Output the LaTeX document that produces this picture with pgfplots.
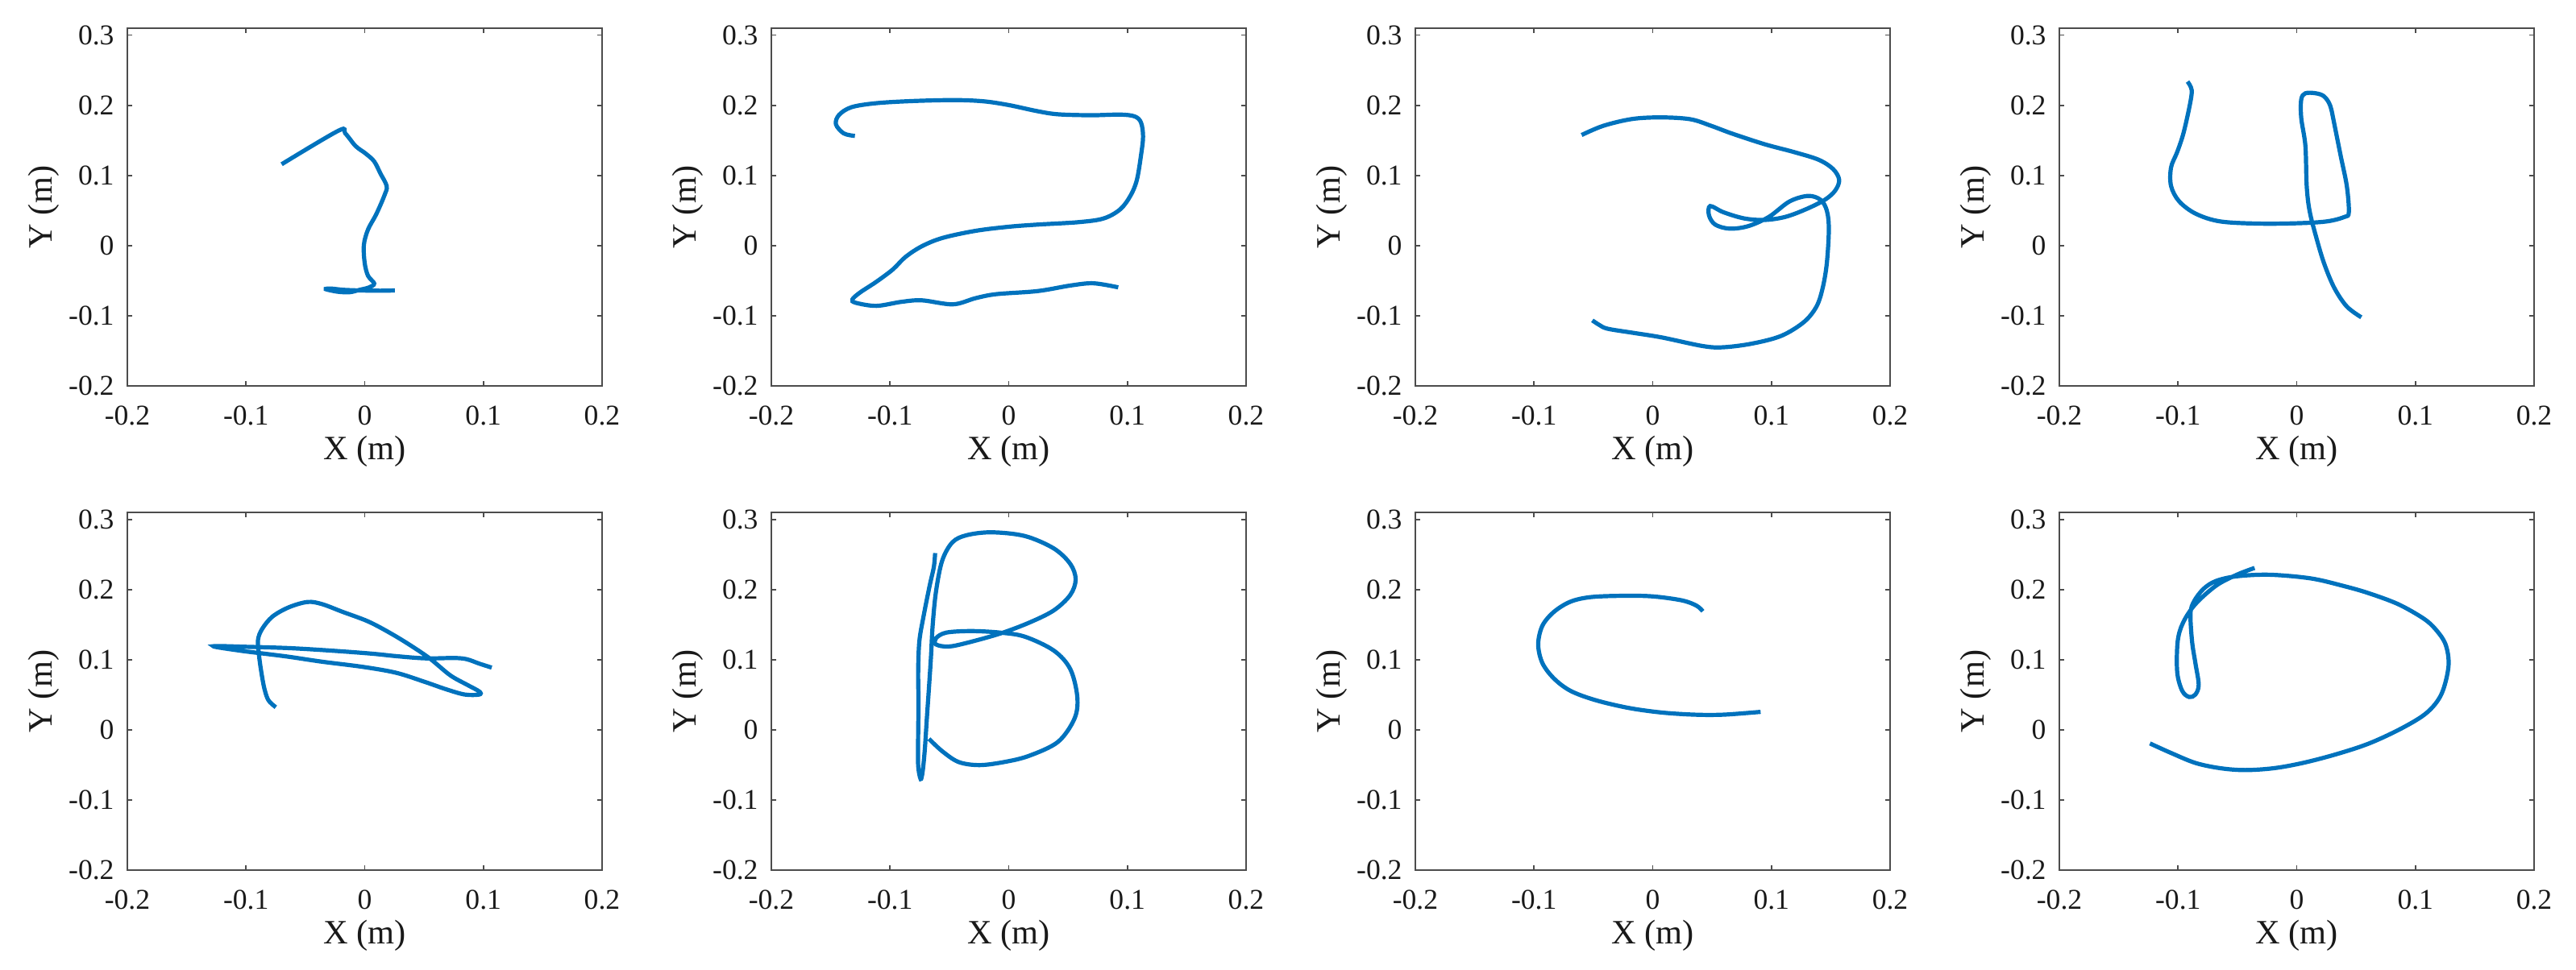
\documentclass[border=0pt]{standalone}
\usepackage{fontspec}
\setmainfont{Liberation Serif}
\usepackage{pgfplots}
\pgfplotsset{compat=1.18}

\definecolor{mblue}{rgb}{0,0.447,0.741}
\definecolor{axisgray}{rgb}{0.3,0.3,0.3}

\pgfplotsset{
  panel/.style={
    scale only axis, anchor=south west,
    width=147.25bp, height=111bp,
    xmin=-0.2, xmax=0.2, ymin=-0.2, ymax=0.31,
    xtick={-0.2,-0.1,0,0.1,0.2}, xticklabels={-0.2,-0.1,0,0.1,0.2},
    ytick={-0.2,-0.1,0,0.1,0.2,0.3}, yticklabels={-0.2,-0.1,0,0.1,0.2,0.3},
    tick align=inside, major tick length=1.5bp,
    axis line style={draw=axisgray, line width=0.4bp},
    every tick/.style={draw=axisgray, line width=0.4bp},
    ticklabel style={font=\fontsize{8.9bp}{10bp}\selectfont, text=black!90},
    xticklabel shift=2.8bp, yticklabel shift=0.6bp,
    xlabel={X (m)}, ylabel={Y (m)},
    label style={font=\fontsize{10.6bp}{12bp}\selectfont, text=black!90},
    xlabel style={at={(axis description cs:0.5,-0.1824)}, anchor=center},
    ylabel style={at={(axis description cs:-0.1766,0.5)}, anchor=center},
  },
  trace/.style={mblue, line width=1.3bp, smooth, tension=0.55},
}

\begin{document}
\begin{tikzpicture}
\path[use as bounding box] (0,0) rectangle (799bp,301bp);

% row 1
\begin{axis}[panel, at={(39.5bp,181.25bp)}]
\addplot[trace] coordinates {
(-0.070,0.116) (-0.022,0.164) (-0.0164,0.160) (-0.0077,0.142) (0.001,0.131)
(0.008,0.120) (0.0132,0.103) (0.0185,0.085) (0.0167,0.072) (0.0098,0.045)
(0.0028,0.023) (-0.0007,0.001) (0.000,-0.025) (0.0028,-0.043) (0.008,-0.054)
(0.0038,-0.0595) (-0.0042,-0.063) (-0.0129,-0.0665) (-0.0233,-0.0656)
(-0.0328,-0.0621) (-0.0286,-0.0612) (-0.0181,-0.063) (-0.0042,-0.0639)
(0.0132,-0.0643) (0.0254,-0.0639)
};
\end{axis}

\begin{axis}[panel, at={(239.25bp,181.25bp)}]
\addplot[trace] coordinates {
(-0.1296,0.1564) (-0.139,0.160) (-0.1456,0.173) (-0.143,0.1863) (-0.1324,0.1974)
(-0.1115,0.2031) (-0.080,0.2062) (-0.0453,0.2075) (-0.0209,0.2057) (0,0.2004)
(0.0244,0.1916) (0.0418,0.1872) (0.0697,0.1859) (0.0941,0.1868) (0.1063,0.1841)
(0.1115,0.1753) (0.1132,0.1555) (0.1115,0.1291) (0.108,0.0938) (0.1028,0.0718)
(0.0941,0.052) (0.0801,0.0388) (0.0592,0.0335) (0.0244,0.030) (0,0.0269)
(-0.0279,0.0211) (-0.0557,0.011) (-0.0732,-0.0009) (-0.0871,-0.0163)
(-0.0976,-0.0339) (-0.1115,-0.0515) (-0.1254,-0.067) (-0.1317,-0.0767)
(-0.1289,-0.0815) (-0.1115,-0.0859) (-0.0906,-0.0802) (-0.0732,-0.078)
(-0.047,-0.0837) (-0.0279,-0.0749) (-0.0105,-0.0692) (0.0244,-0.0648)
(0.0523,-0.0568) (0.0714,-0.0537) (0.0923,-0.0595)
};
\end{axis}

\begin{axis}[panel, at={(439bp,181.25bp)}]
\addplot[trace] coordinates {
(-0.0599,0.1577) (-0.0415,0.1709) (-0.0171,0.1806) (0.0073,0.1828) (0.0317,0.1802)
(0.0491,0.1709) (0.0666,0.1599) (0.0944,0.1445) (0.1188,0.1335) (0.1397,0.1225)
(0.1519,0.1093) (0.1571,0.0938) (0.1537,0.0784) (0.1449,0.0652) (0.1293,0.052)
(0.1118,0.041) (0.0944,0.0366) (0.077,0.0388) (0.0596,0.0476) (0.0484,0.0564)
(0.0474,0.0432) (0.0526,0.030) (0.0648,0.0242) (0.0805,0.0278) (0.0979,0.041)
(0.1153,0.063) (0.131,0.0709) (0.1415,0.0652) (0.1467,0.0498) (0.1484,0.0233)
(0.1467,-0.0251) (0.1432,-0.0604) (0.138,-0.0868) (0.1275,-0.1088)
(0.1084,-0.1286) (0.084,-0.1396) (0.0596,-0.1449) (0.0422,-0.1432)
(0.0073,-0.1308) (-0.0171,-0.1242) (-0.038,-0.1185) (-0.0449,-0.1132)
(-0.0509,-0.1066)
};
\end{axis}

\begin{axis}[panel, at={(638.75bp,181.25bp)}]
\addplot[trace] coordinates {
(-0.092,0.2339) (-0.0885,0.2216) (-0.0902,0.1996) (-0.0955,0.1599) (-0.1007,0.1335)
(-0.1059,0.1115) (-0.1059,0.085) (-0.099,0.063) (-0.085,0.0454) (-0.0641,0.0344)
(-0.0293,0.0313) (0.0056,0.0322) (0.0265,0.0348) (0.0404,0.041) (0.0439,0.0476)
(0.0422,0.085) (0.0369,0.1291) (0.0317,0.1731) (0.0282,0.1996) (0.023,0.2128)
(0.016,0.2172) (0.0073,0.2172) (0.0038,0.2084) (0.0038,0.1819) (0.0073,0.1423)
(0.0084,0.085) (0.0108,0.0498) (0.016,0.0145) (0.023,-0.0251) (0.0317,-0.0604)
(0.0422,-0.0868) (0.0544,-0.1022)
};
\end{axis}

% row 2
\begin{axis}[panel, at={(39.5bp,31bp)}]
\addplot[trace] coordinates {
(-0.0749,0.0322) (-0.0812,0.0424) (-0.0847,0.060) (-0.0875,0.0865) (-0.0892,0.1086)
(-0.0899,0.1284) (-0.0864,0.1439) (-0.0777,0.1615) (-0.0638,0.1748) (-0.0481,0.1823)
(-0.0359,0.1792) (-0.0185,0.1681) (0.0024,0.1549) (0.0199,0.1395) (0.0373,0.1218)
(0.0547,0.1019) (0.0721,0.0777) (0.0861,0.0644) (0.0965,0.0547) (0.0965,0.0503)
(0.0843,0.0503) (0.0686,0.0578) (0.0512,0.068) (0.0268,0.0812) (-0.001,0.0896)
(-0.0359,0.0971) (-0.0638,0.1041) (-0.0847,0.1086) (-0.1056,0.113) (-0.1275,0.1192)
(-0.0986,0.1183) (-0.0638,0.1165) (-0.0289,0.113) (0.0059,0.1086) (0.0268,0.105)
(0.0512,0.1019) (0.0756,0.1024) (0.0861,0.1006) (0.0965,0.0944) (0.107,0.0887)
};
\end{axis}

\begin{axis}[panel, at={(239.25bp,31bp)}]
\addplot[trace] coordinates {
(-0.062,0.252) (-0.0631,0.2321) (-0.0666,0.2056) (-0.0718,0.1615) (-0.0753,0.1262)
(-0.0763,0.0821) (-0.076,0.038) (-0.0763,-0.0062) (-0.0763,-0.0503) (-0.0742,-0.0702)
(-0.0725,-0.0591) (-0.0707,-0.0282) (-0.069,0.0159) (-0.0672,0.060) (-0.0655,0.1041)
(-0.0641,0.1483) (-0.0613,0.1968) (-0.0561,0.241) (-0.0474,0.2674) (-0.0352,0.2776)
(-0.0143,0.2816) (0.0136,0.2763) (0.038,0.2586) (0.0519,0.2365) (0.0564,0.2145)
(0.0519,0.1924) (0.038,0.1703) (0.0171,0.1527) (-0.0073,0.1372) (-0.0352,0.124)
(-0.0509,0.1187) (-0.0613,0.1218) (-0.0613,0.1306) (-0.0526,0.1386) (-0.0317,0.1408)
(-0.0073,0.1386) (0.0136,0.1328) (0.038,0.113) (0.0519,0.0865) (0.0578,0.0468)
(0.0554,0.0159) (0.0415,-0.0172) (0.0171,-0.0371) (-0.0038,-0.0459) (-0.0247,-0.0503)
(-0.0422,-0.0459) (-0.0561,-0.0304) (-0.0672,-0.0128)
};
\end{axis}

\begin{axis}[panel, at={(439bp,31bp)}]
\addplot[trace] coordinates {
(0.0422,0.169) (0.0369,0.177) (0.0247,0.1845) (0.0003,0.1902) (-0.024,0.1911)
(-0.0519,0.1893) (-0.0693,0.1827) (-0.0833,0.1681) (-0.093,0.1483) (-0.0965,0.1218)
(-0.093,0.0953) (-0.0833,0.0733) (-0.0693,0.0556) (-0.0484,0.0424) (-0.0206,0.0313)
(0.0073,0.0247) (0.0352,0.0216) (0.0596,0.0216) (0.0909,0.0256)
};
\end{axis}

\begin{axis}[panel, at={(638.75bp,31bp)}]
\addplot[trace] coordinates {
(-0.1237,-0.0194) (-0.1063,-0.0327) (-0.0854,-0.0472) (-0.0645,-0.0547) (-0.0436,-0.0574)
(-0.0192,-0.0547) (0.0052,-0.0472) (0.0331,-0.0349) (0.061,-0.0194) (0.0889,0.0026)
(0.1098,0.0247) (0.122,0.0512) (0.1279,0.0909) (0.1254,0.1218) (0.1167,0.1439)
(0.1063,0.1593) (0.0854,0.1792) (0.061,0.1946) (0.0401,0.2048) (0.0122,0.2158)
(-0.0226,0.2211) (-0.0505,0.2189) (-0.0679,0.2123) (-0.0784,0.2012) (-0.0864,0.1836)
(-0.0895,0.1659) (-0.0882,0.1262) (-0.0854,0.0953) (-0.0826,0.0644) (-0.0854,0.0503)
(-0.0906,0.0468) (-0.0965,0.0556) (-0.1007,0.0821) (-0.1003,0.1262) (-0.0958,0.1527)
(-0.0854,0.1792) (-0.0679,0.2056) (-0.0505,0.2211) (-0.0355,0.2308)
};
\end{axis}
\end{tikzpicture}
\end{document}
